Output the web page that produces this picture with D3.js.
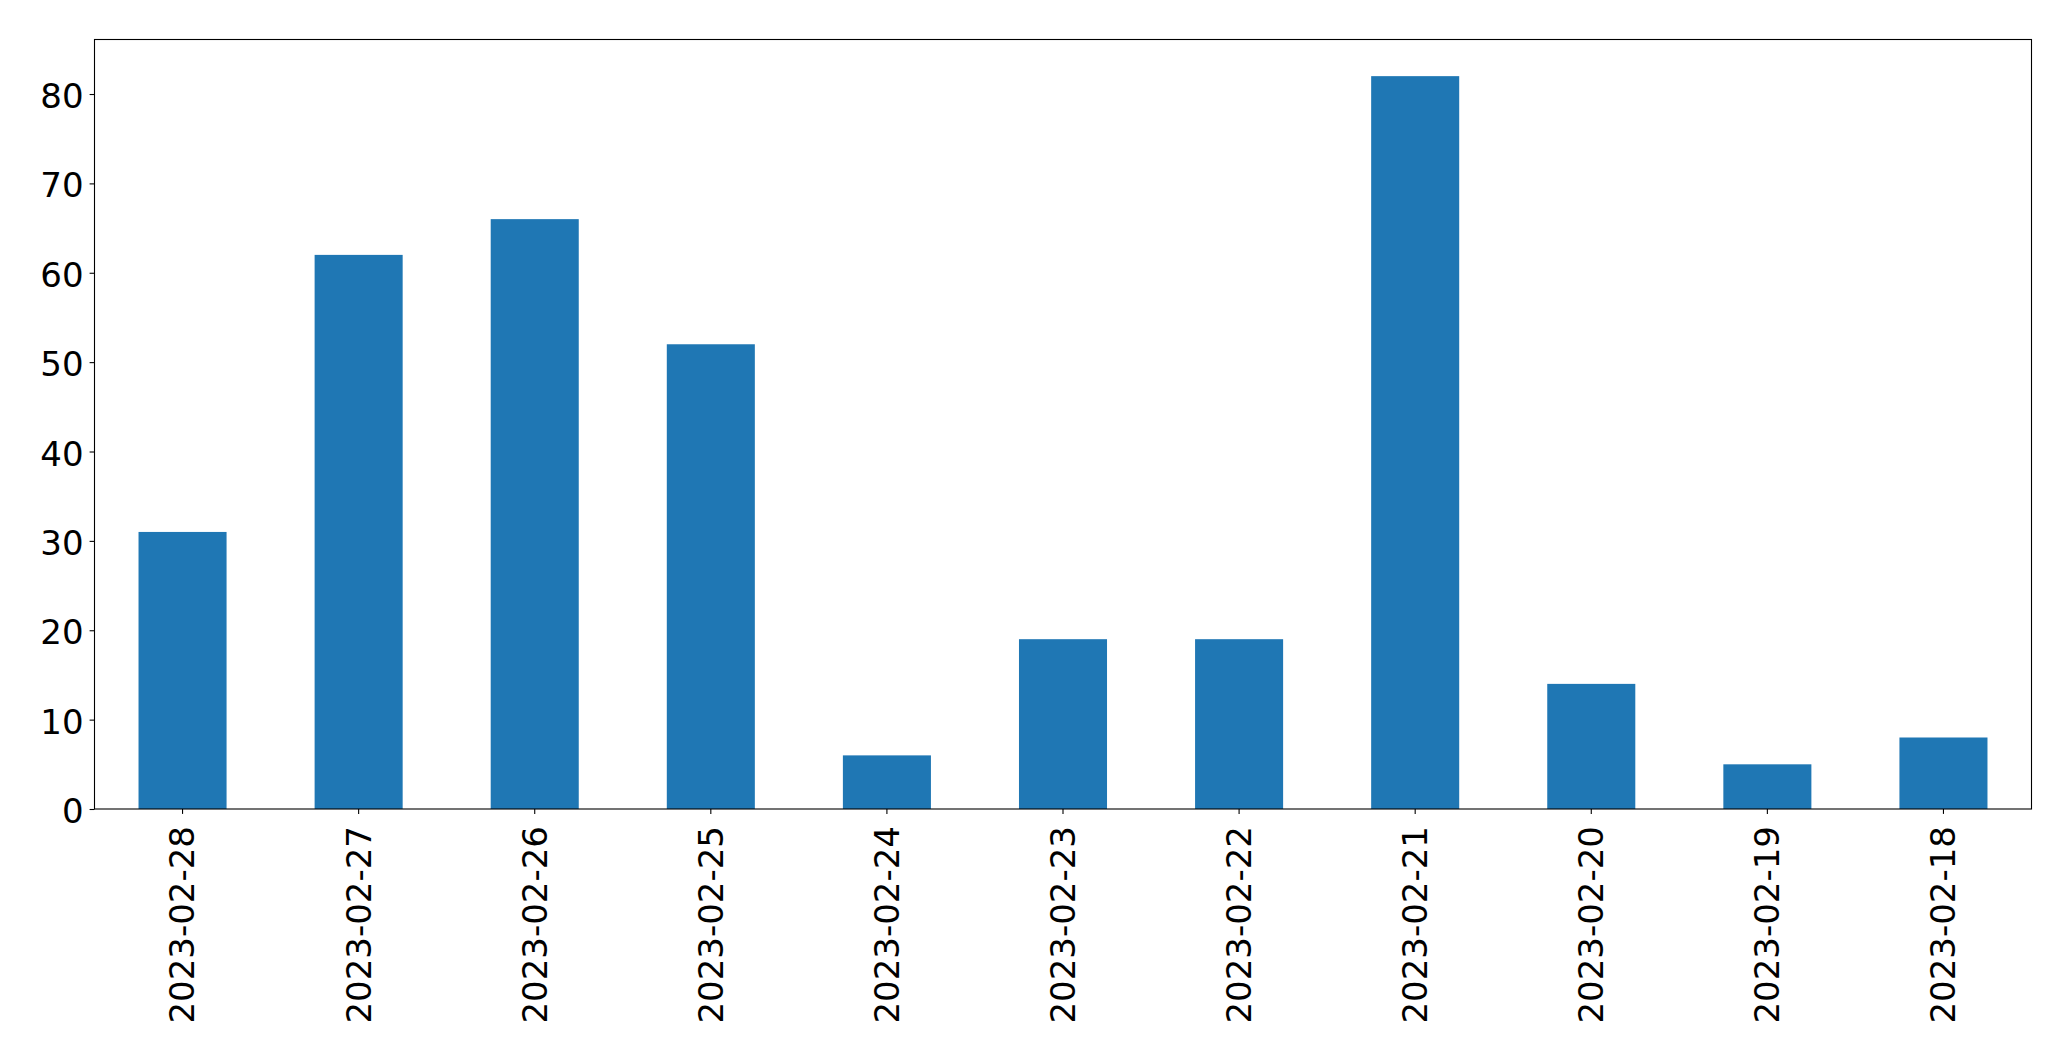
<!DOCTYPE html>
<html>
<head>
<meta charset="utf-8">
<script src="https://cdn.jsdelivr.net/npm/d3@7"></script>
<style>
  html, body { margin: 0; padding: 0; background: #fff; }
  svg { display: block; }
  text { font-family: "DejaVu Sans", sans-serif; fill: #000; }
</style>
</head>
<body>
<div id="chart"></div>
<script>
const categories = ["2023-02-28", "2023-02-27", "2023-02-26", "2023-02-25", "2023-02-24", "2023-02-23", "2023-02-22", "2023-02-21", "2023-02-20", "2023-02-19", "2023-02-18"];
const values = [31, 62, 66, 52, 6, 19, 19, 82, 14, 5, 8];
const yTicks = [0, 10, 20, 30, 40, 50, 60, 70, 80];

(function () {
const W = 2071, H = 1061;
const mLeft = 94.5, mRight = 2031.5, mTop = 39.5, mBottom = 809;
const fontSize = 34;

const svg = d3.select("#chart").append("svg").attr("width", W).attr("height", H);

const x = d3.scaleBand().domain(categories).range([mLeft, mRight]).paddingInner(0.5).paddingOuter(0.25);
const yMax = d3.max(values) * 1.05;
const y = d3.scaleLinear().domain([0, yMax]).range([mBottom, mTop]);

svg.append("g").selectAll("rect").data(values).join("rect")
  .attr("x", (d, i) => x(categories[i]))
  .attr("width", x.bandwidth())
  .attr("y", d => y(d))
  .attr("height", d => y(0) - y(d))
  .attr("fill", "#1f77b4");

// Y axis
const yAxis = d3.axisLeft(y).tickValues(yTicks).tickSize(4.9).tickPadding(6).tickFormat(d3.format("d"));
const gy = svg.append("g").attr("transform", `translate(${mLeft},0)`).call(yAxis);
gy.select(".domain").remove();
gy.selectAll(".tick line").attr("stroke", "#000").attr("stroke-width", 1.1);
gy.selectAll(".tick text").attr("font-size", fontSize).attr("font-family", "DejaVu Sans").attr("fill", "#000").attr("dy", "0.40em");

// X axis
const xAxis = d3.axisBottom(x).tickSize(4.9).tickPadding(0);
const gx = svg.append("g").attr("transform", `translate(0,${mBottom})`).call(xAxis);
gx.select(".domain").remove();
gx.selectAll(".tick line").attr("stroke", "#000").attr("stroke-width", 1.1);
gx.selectAll(".tick text")
  .attr("font-size", fontSize)
  .attr("font-family", "DejaVu Sans")
  .attr("fill", "#000")
  .attr("text-anchor", "end")
  .attr("y", null)
  .attr("transform", "translate(0,17) rotate(-90)")
  .attr("x", 0)
  .attr("dy", "0.35em");

// frame
svg.append("rect")
  .attr("x", mLeft).attr("y", mTop)
  .attr("width", mRight - mLeft).attr("height", mBottom - mTop)
  .attr("fill", "none").attr("stroke", "#000").attr("stroke-width", 1.1);
})();
</script>
</body>
</html>
